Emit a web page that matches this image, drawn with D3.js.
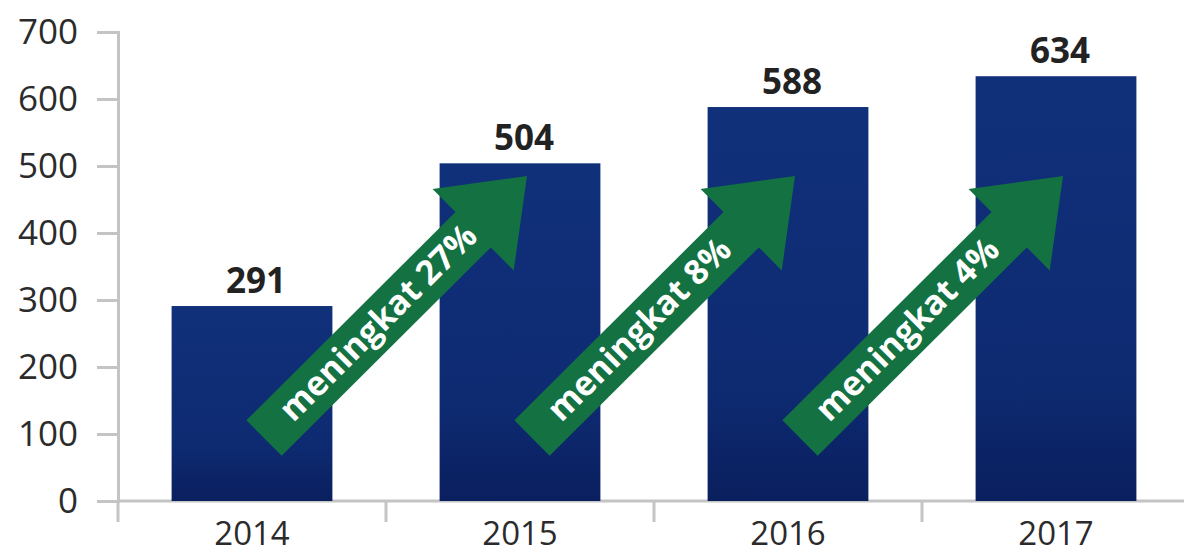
<!DOCTYPE html>
<html>
<head>
<meta charset="utf-8">
<script src="https://cdn.jsdelivr.net/npm/d3@7/dist/d3.min.js"></script>
<style>
  html, body { margin: 0; padding: 0; background: #fff; }
  svg { display: block; }
  text { font-family: "Open Sans", "Noto Sans", sans-serif; }
</style>
</head>
<body>
<svg id="chart" width="1184" height="554"></svg>
<script>
// Data
const years = ["2014", "2015", "2016", "2017"];
const values = [291, 504, 588, 634];
const growthLabels = ["meningkat 27%", "meningkat 8%", "meningkat 4%"];
const yTickValues = [0, 100, 200, 300, 400, 500, 600, 700];

const plot = { left: 118, right: 1190, top: 32, bottom: 501 };

const svg = d3.select("#chart");

const x = d3.scaleBand()
  .domain(years)
  .range([plot.left, plot.right])
  .paddingInner(0.4)
  .paddingOuter(0.2);

const y = d3.scaleLinear()
  .domain([0, 700])
  .range([plot.bottom, plot.top]);

const axisColor = "#c4c4c4";

// Bar gradient
const defs = svg.append("defs");
const grad = defs.append("linearGradient")
  .attr("id", "barGrad").attr("x1", 0).attr("y1", 0).attr("x2", 0).attr("y2", 1);
grad.append("stop").attr("offset", "0%").attr("stop-color", "#10307a");
grad.append("stop").attr("offset", "70%").attr("stop-color", "#0e2b72");
grad.append("stop").attr("offset", "100%").attr("stop-color", "#0a1f5e");

// Y axis
const yAxis = svg.append("g")
  .attr("transform", `translate(${plot.left},0)`)
  .call(d3.axisLeft(y).tickValues(yTickValues).tickSize(21).tickSizeOuter(21).tickPadding(19));
yAxis.selectAll("path, line").attr("stroke", axisColor).attr("stroke-width", 3);
yAxis.selectAll("text")
  .attr("fill", "#2b2b2b")
  .style("font-size", "35px");

// X axis baseline and category separators
const step = x.step();
const bandEdge = i => plot.left + i * step;
const xAxis = svg.append("g");
xAxis.append("line")
  .attr("x1", plot.left).attr("x2", plot.right)
  .attr("y1", y(0)).attr("y2", y(0))
  .attr("stroke", axisColor).attr("stroke-width", 3);
xAxis.selectAll("line.sep")
  .data(d3.range(years.length + 1))
  .join("line")
  .attr("class", "sep")
  .attr("x1", bandEdge).attr("x2", bandEdge)
  .attr("y1", y(0)).attr("y2", y(0) + 21)
  .attr("stroke", axisColor).attr("stroke-width", 3);

const xLabels = svg.append("g")
  .attr("transform", `translate(0,${y(0)})`)
  .call(d3.axisBottom(x).tickSize(0).tickPadding(21));
xLabels.select(".domain").remove();
xLabels.selectAll("text")
  .attr("fill", "#2b2b2b")
  .attr("dy", "0.71em")
  .style("font-size", "33px");

// Bars
svg.append("g").selectAll("rect")
  .data(years)
  .join("rect")
  .attr("x", d => x(d))
  .attr("width", x.bandwidth())
  .attr("y", (d, i) => y(values[i]))
  .attr("height", (d, i) => y(0) - y(values[i]))
  .attr("fill", "url(#barGrad)");

// Growth arrows between consecutive years
const shaftHalf = 25, headLen = 76, headHalf = 57.5;
const arrows = growthLabels.map((label, i) => {
  const cx0 = x(years[i]) + x.bandwidth() / 2;
  const cx1 = x(years[i + 1]) + x.bandwidth() / 2;
  const x0 = cx0 + 12, y0 = y(94);
  const x1 = cx1 + 7, y1 = y(485);
  const len = Math.hypot(x1 - x0, y1 - y0);
  const ang = Math.atan2(y1 - y0, x1 - x0) * 180 / Math.PI;
  return { label, x0, y0, len, ang };
});

const arrowG = svg.append("g").selectAll("g")
  .data(arrows)
  .join("g")
  .attr("transform", d => `translate(${d.x0},${d.y0}) rotate(${d.ang})`);

arrowG.append("path")
  .attr("d", d => {
    const L = d.len, b = L - headLen;
    return `M0,${-shaftHalf}L${b},${-shaftHalf}L${b},${-headHalf}L${L},0L${b},${headHalf}L${b},${shaftHalf}L0,${shaftHalf}Z`;
  })
  .attr("fill", "#137142");

arrowG.append("text")
  .attr("x", 31)
  .attr("y", 0)
  .attr("dy", "0.3em")
  .attr("fill", "#ffffff")
  .style("font-size", "34px")
  .style("font-weight", "700")
  .text(d => d.label);

// Value labels
svg.append("g").selectAll("text")
  .data(years)
  .join("text")
  .attr("x", d => x(d) + x.bandwidth() / 2 + 4)
  .attr("y", (d, i) => y(values[i]) - 13)
  .attr("text-anchor", "middle")
  .attr("fill", "#222")
  .style("font-size", "35px")
  .style("font-weight", "700")
  .text((d, i) => values[i]);
</script>
</body>
</html>
